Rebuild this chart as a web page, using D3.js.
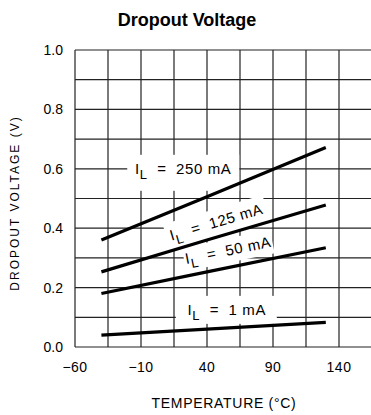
<!DOCTYPE html>
<html>
<head>
<meta charset="utf-8">
<script src="https://cdn.jsdelivr.net/npm/d3@7"></script>
<style>
  body { margin: 0; background: #fff; }
  svg { display: block; }
</style>
</head>
<body>
<div id="chart"></div>
<script>
// values
const temps = [-40, 40, 130];
const il250 = [0.36, 0.506, 0.672];
const il125 = [0.253, 0.36, 0.478];
const il50 = [0.18, 0.253, 0.334];
const il1 = [0.04, 0.06, 0.083];

const xTickLabels = [-60, -10, 40, 90, 140];
const yTickLabels = [0, 0.2, 0.4, 0.6, 0.8, 1.0];
const xGrid = d3.range(-60, 166, 25);
const yGrid = d3.range(0, 1.01, 0.1);

const width = 371;
const height = 415;
const margin = { top: 50, left: 75 };
const plotW = 297;
const plotH = 297;

const svg = d3.select('#chart')
  .append('svg')
  .attr('width', width)
  .attr('height', height);

const x = d3.scaleLinear([-60, 165], [margin.left, margin.left + plotW]);
const y = d3.scaleLinear([0, 1], [margin.top + plotH, margin.top]);

// title
svg.append('text')
  .attr('x', 187)
  .attr('y', 26)
  .attr('text-anchor', 'middle')
  .style('font-family', 'Liberation Sans, Arial, sans-serif')
  .style('font-weight', 'bold')
  .style('font-size', '18px')
  .text('Dropout Voltage');

// grid
const grid = svg.append('g')
  .attr('stroke', '#222')
  .attr('stroke-width', 1.2);

grid.selectAll('.vg').data(xGrid).join('line')
  .attr('class', 'vg')
  .attr('x1', d => x(d)).attr('x2', d => x(d))
  .attr('y1', y(0)).attr('y2', y(1));

grid.selectAll('.hg').data(yGrid).join('line')
  .attr('class', 'hg')
  .attr('x1', x(-60)).attr('x2', x(165))
  .attr('y1', d => y(d)).attr('y2', d => y(d));

// tick labels
svg.append('g').selectAll('text').data(yTickLabels).join('text')
  .attr('x', 63)
  .attr('y', d => y(d) + 5)
  .attr('text-anchor', 'end')
  .style('font-family', 'Liberation Sans, Arial, sans-serif')
  .style('font-size', '14px')
  .text(d => d3.format('.1f')(d));

svg.append('g').selectAll('text').data(xTickLabels).join('text')
  .attr('x', d => x(d))
  .attr('y', 372)
  .attr('text-anchor', 'middle')
  .style('font-family', 'Liberation Sans, Arial, sans-serif')
  .style('font-size', '14px')
  .style('letter-spacing', '0.5px')
  .text(d => d < 0 ? '\u2212' + Math.abs(d) : d);

// axis titles
svg.append('text')
  .attr('x', 224)
  .attr('y', 408)
  .attr('text-anchor', 'middle')
  .style('font-family', 'Liberation Sans, Arial, sans-serif')
  .style('font-size', '14px')
  .style('letter-spacing', '0.7px')
  .text('TEMPERATURE (\u00B0C)');

svg.append('text')
  .attr('transform', 'translate(19, 203) rotate(-90)')
  .attr('text-anchor', 'middle')
  .style('font-family', 'Liberation Sans, Arial, sans-serif')
  .style('font-size', '12px')
  .style('letter-spacing', '2px')
  .text('DROPOUT VOLTAGE (V)');

// curve labels: position (data coords), rotation, current
const labels = [
  { t: 22, v: 0.6, rot: 0, cur: '250', box: [-56, -14, 112, 36] },
  { t: 47, v: 0.42, rot: -16.5, cur: '125', box: [-52, -13, 104, 28] },
  { t: 56, v: 0.325, rot: -11.5, cur: '50', box: [-45, -12, 90, 24] },
  { t: 55, v: 0.125, rot: 0, cur: '1', box: [-51, -14, 101, 28] }
];

const lab = svg.append('g');
const labGroups = lab.selectAll('g').data(labels).join('g')
  .attr('transform', d => `translate(${x(d.t)}, ${y(d.v)}) rotate(${d.rot})`);

labGroups.append('rect')
  .attr('x', d => d.box[0])
  .attr('y', d => d.box[1])
  .attr('width', d => d.box[2])
  .attr('height', d => d.box[3])
  .attr('fill', '#fff');

// curves
const line = d3.line()
  .x(d => x(d[0]))
  .y(d => y(d[1]));

const series = [il250, il125, il50, il1];
svg.append('g').selectAll('path').data(series).join('path')
  .attr('d', s => line(temps.map((t, i) => [t, s[i]])))
  .attr('fill', 'none')
  .attr('stroke', '#000')
  .attr('stroke-width', 3.2);

const txt = svg.append('g').selectAll('g').data(labels).join('g')
  .attr('transform', d => `translate(${x(d.t)}, ${y(d.v)}) rotate(${d.rot})`)
  .append('text')
  .attr('text-anchor', 'middle')
  .attr('y', 5)
  .style('font-family', 'Liberation Sans, Arial, sans-serif')
  .style('font-size', '15px')
  .style('letter-spacing', '0.6px')
  .style('white-space', 'pre');

txt.append('tspan').text('I');
txt.append('tspan').attr('dy', 5).style('font-size', '13px').text('L');
txt.append('tspan').attr('dy', -5).text(d => '  =  ' + d.cur + ' mA');
</script>
</body>
</html>
